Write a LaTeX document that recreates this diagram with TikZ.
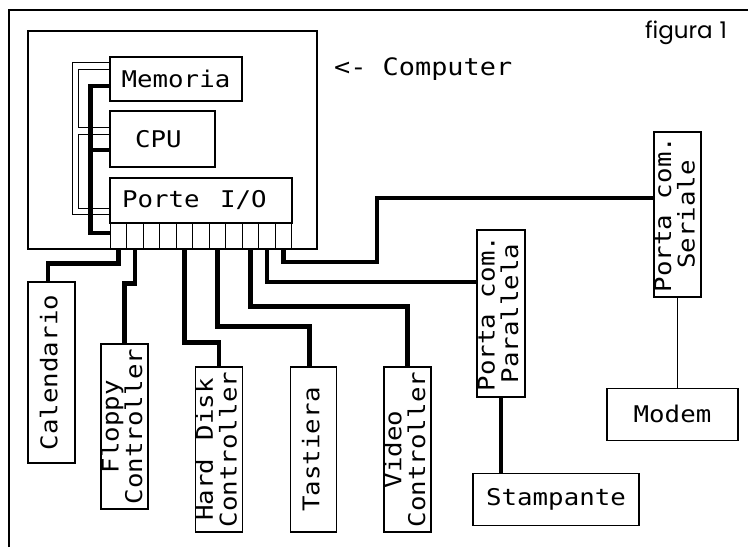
\documentclass[tikz,border=0pt]{standalone}
\usepackage{fontspec}
\newfontfamily\plotfont[FakeStretch=1.12]{DejaVu Sans Mono}
\newfontfamily\capfont{Poppins}
\usepackage{tikz}
\usetikzlibrary{positioning,calc}
\newcommand{\vlabel}[1]{\rotatebox{90}{\begin{tabular}{@{}c@{}}#1\end{tabular}}}
\tikzset{
  box/.style={draw,line width=1.2pt,fill=white,inner sep=0pt,%
    font=\plotfont\fontsize{23}{20}\selectfont,align=center},
  slot/.style={draw,line width=1pt,minimum width=16.545pt,%
    minimum height=26pt,inner sep=0pt},
  bus/.style={line width=4.5pt},
  wire/.style={line width=1pt},
  frame/.style={line width=2pt},
}

\begin{document}
\begin{tikzpicture}[x=1pt,y=-1pt]
\fill[white] (0,0) rectangle (748,547);
\useasboundingbox (0,0) rectangle (748,547);
\draw[frame] (9,547) |- (748,10);
% computer
\node[box,minimum width=289pt,minimum height=218pt] (comp) at (172.5,140) {};
\node[box,minimum width=132pt,minimum height=44pt] (mem) at (176,79) {Memoria};
\node[box,minimum width=105pt,minimum height=56pt,text width=55pt,align=left] (cpu) at (162.5,139) {CPU};
\node[box,minimum width=182pt,minimum height=45pt,text width=158pt,align=left] (io) at (201,200.5) {Porte\hspace{0.9em}I/O};
\foreach \i in {1,...,11}
  \node[slot] (s\i) at ({110+16.545*(\i-0.5)},236) {};
\node[font=\plotfont\fontsize{24}{24}\selectfont,anchor=west,inner sep=0pt] (comptxt) at (334,69) {<- Computer};
\node[font=\capfont\fontsize{23}{23}\selectfont,inner sep=0pt] (fig) at (686,33) {figura\hspace{0.3em}1};
% bus interno
\draw[wire] ([yshift=17pt]mem.west) -- ++(-37,0) |- ([yshift=-13.5pt]io.west);
\draw[wire] ([yshift=10pt]mem.west) -- ++(-31,0) |- ([yshift=12pt]cpu.west);
\draw[wire] ([yshift=5pt]cpu.west) -- ++(-31,0) |- ([yshift=-7.5pt]io.west);
\draw[bus] ([yshift=-7pt]mem.west) -- ++(-19,0) |- ([yshift=3pt]s1.west);
\draw[bus] ([yshift=-11pt]cpu.west) -- ++(-19,0);
% periferiche
\node[box,minimum width=47pt,minimum height=181pt] (cal) at (51.5,372.5) {\vlabel{Calendario}};
\node[box,minimum width=47pt,minimum height=165pt] (flop) at (124.5,426.5) {\vlabel{Floppy\\Controller}};
\node[box,minimum width=46pt,minimum height=165pt] (hdd) at (219,449.5) {\vlabel{Hard\hspace{0.8em}Disk\\Controller}};
\node[box,minimum width=46pt,minimum height=165pt,right=47pt of hdd] (tast) {\vlabel{Tastiera}};
\node[box,minimum width=46pt,minimum height=165pt,right=46pt of tast] (video) {\vlabel{Video\\Controller}};
\node[box,minimum width=48pt,minimum height=167pt] (par) at (501,313.5) {\vlabel{Porta com.\\Parallela}};
\node[box,minimum width=47pt,minimum height=165pt] (ser) at (677.5,214.5) {\vlabel{Porta com.\\Seriale}};
\node[box,minimum width=166pt,minimum height=52pt,below=75pt of par,xshift=55pt] (stamp) {Stampante};
\node[box,minimum width=131pt,minimum height=52pt,below=90pt of ser,xshift=-5pt] (modem) {Modem};
% collegamenti
\draw[bus] (s1.south) -- ++(0,14) -| ([xshift=-3.5pt]cal.north);
\draw[bus] (s2.south) -- ++(0,34) -| (flop.north);
\draw[bus] (s5.south) -- ++(0,93) -| (hdd.north);
\draw[bus] (s7.south) -- ++(0,77) -| ([xshift=-4pt]tast.north);
\draw[bus] (s9.south) -- ++(0,57) -| (video.north);
\draw[bus] (s10.south) |- ([yshift=31.5pt]par.west);
\draw[bus] (s11.south) |- (377,262) |- ([yshift=16.5pt]ser.west);
\draw[bus] (par.south) -- (par.south |- stamp.north);
\draw[wire] (ser.south) -- (ser.south |- modem.north);
\end{tikzpicture}
\end{document}
